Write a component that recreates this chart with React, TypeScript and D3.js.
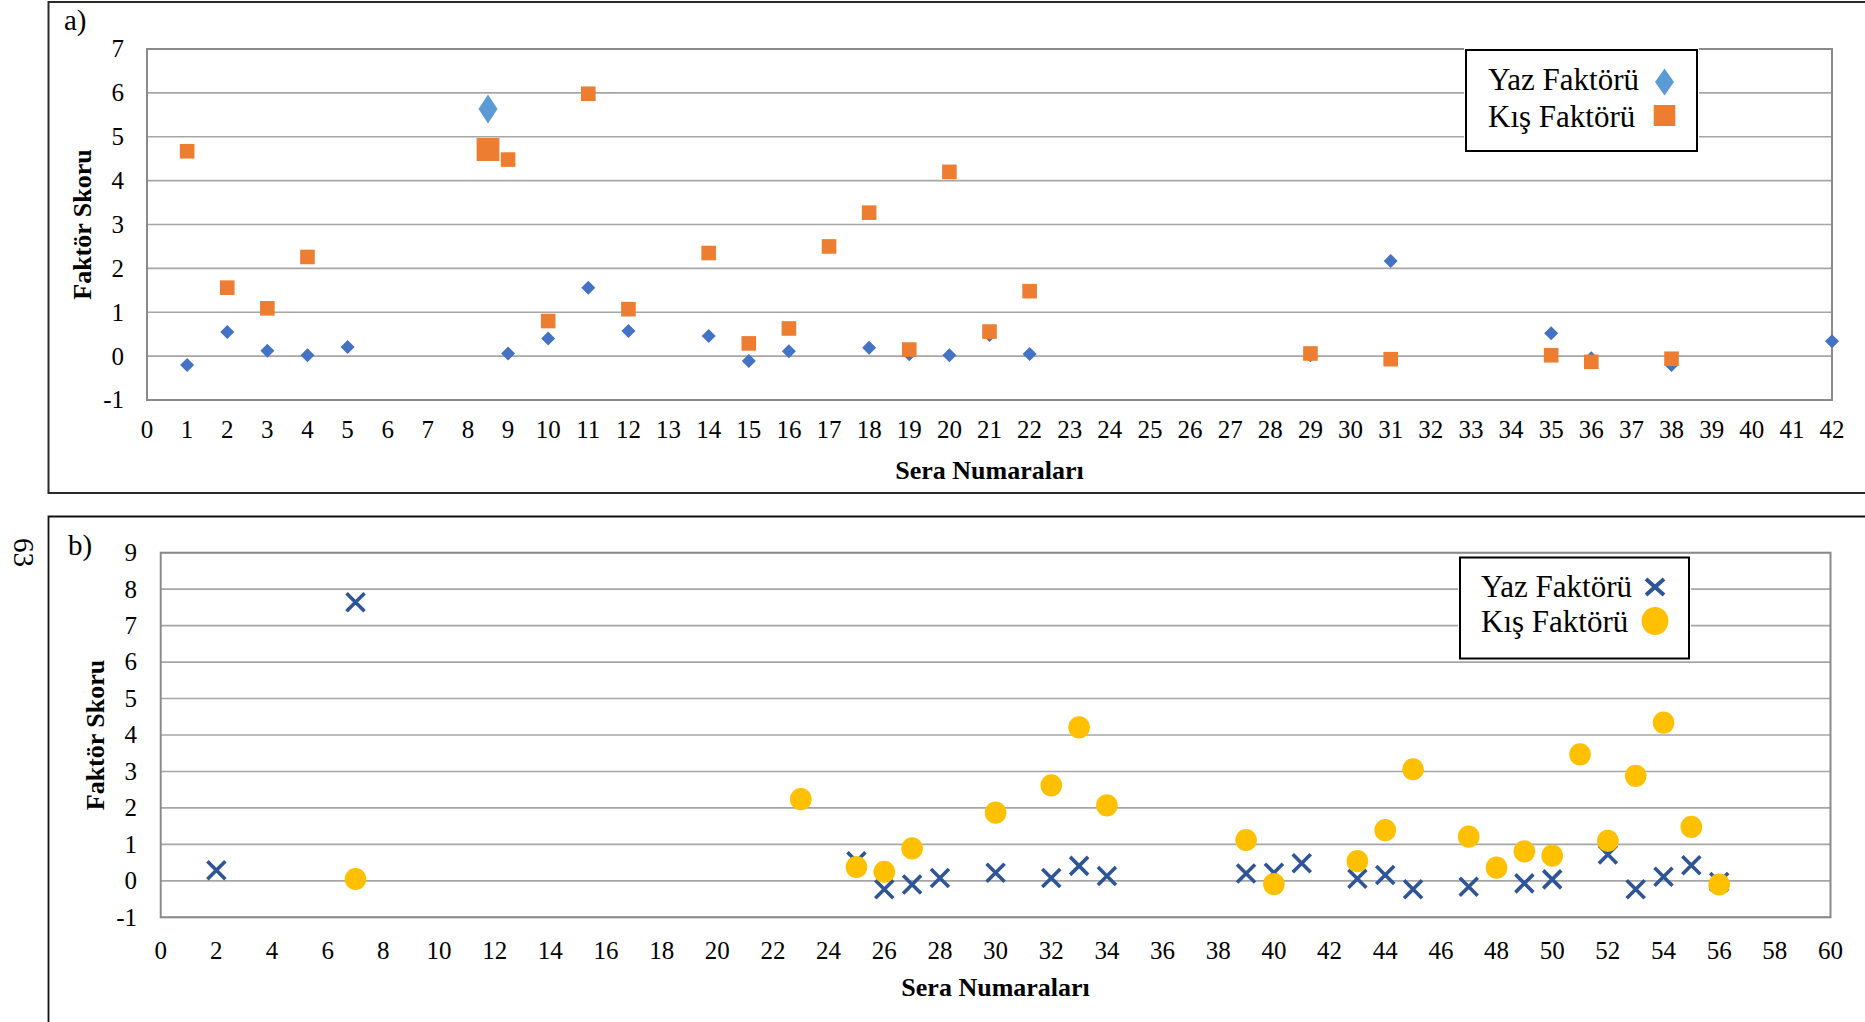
import React from 'react';
import * as d3 from 'd3';

const FONT = '"Liberation Serif", "Times New Roman", Times, serif';

// ---------- Panel a: greenhouses 1–42 ----------
const xTicksA = [0, 1, 2, 3, 4, 5, 6, 7, 8, 9, 10, 11, 12, 13, 14, 15, 16, 17, 18, 19, 20, 21, 22, 23, 24, 25, 26, 27, 28, 29, 30, 31, 32, 33, 34, 35, 36, 37, 38, 39, 40, 41, 42];
const yTicksA = [-1, 0, 1, 2, 3, 4, 5, 6, 7];

const yazSeraA = [1, 2, 3, 4, 5, 9, 10, 11, 12, 14, 15, 16, 18, 19, 20, 21, 22, 29, 31, 35, 36, 38, 42];
const yazSkorA = [-0.2, 0.55, 0.12, 0.02, 0.21, 0.06, 0.4, 1.56, 0.57, 0.46, -0.11, 0.11, 0.19, 0.04, 0.02, 0.48, 0.05, 0.02, 2.17, 0.52, -0.05, -0.2, 0.34];

const kisSeraA = [1, 2, 3, 4, 9, 10, 11, 12, 14, 15, 16, 17, 18, 19, 20, 21, 22, 29, 31, 35, 36, 38];
const kisSkorA = [4.67, 1.56, 1.09, 2.26, 4.48, 0.8, 5.98, 1.07, 2.35, 0.29, 0.63, 2.5, 3.27, 0.15, 4.2, 0.56, 1.48, 0.06, -0.07, 0.02, -0.13, -0.06];

// enlarged markers
const vurguSeraA = [8.5];
const vurguYazA = [5.63];
const vurguKisA = [4.71];

// ---------- Panel b: greenhouses 1–60 ----------
const xTicksB = [0, 2, 4, 6, 8, 10, 12, 14, 16, 18, 20, 22, 24, 26, 28, 30, 32, 34, 36, 38, 40, 42, 44, 46, 48, 50, 52, 54, 56, 58, 60];
const yTicksB = [-1, 0, 1, 2, 3, 4, 5, 6, 7, 8, 9];

const yazSeraB = [2, 7, 25, 26, 27, 28, 30, 32, 33, 34, 39, 40, 41, 43, 44, 45, 47, 49, 50, 52, 53, 54, 55, 56];
const yazSkorB = [0.29, 7.64, 0.54, -0.23, -0.1, 0.08, 0.22, 0.08, 0.41, 0.13, 0.2, 0.22, 0.48, 0.06, 0.16, -0.23, -0.16, -0.07, 0.04, 0.72, -0.23, 0.11, 0.43, -0.03];

const kisSeraB = [7, 23, 25, 26, 27, 30, 32, 33, 34, 39, 40, 43, 44, 45, 47, 48, 49, 50, 51, 52, 53, 54, 55, 56];
const kisSkorB = [0.05, 2.24, 0.38, 0.25, 0.89, 1.87, 2.62, 4.21, 2.07, 1.12, -0.09, 0.54, 1.39, 3.06, 1.21, 0.36, 0.81, 0.69, 3.47, 1.1, 2.88, 4.34, 1.48, -0.1];

const seriesNames = ['Yaz Faktörü', 'Kış Faktörü'];

const C_YAZ = '#4472C4';
const C_YAZ_LIGHT = '#5B9BD5';
const C_KIS = '#ED7D31';
const C_YAZ_B = '#2F5597';
const C_KIS_B = '#FFC000';
const C_GRID = '#a6a6a6';
const C_BORDER = '#8a8a8a';

const diamondPath = (w: number, h: number) => `M0,${-h / 2}L${w / 2},0L0,${h / 2}L${-w / 2},0Z`;
const crossPath = (w: number, h: number) =>
  `M${-w / 2},${-h / 2}L${w / 2},${h / 2}M${w / 2},${-h / 2}L${-w / 2},${h / 2}`;

type Layout = {
  l: number; r: number; t: number; b: number;
  xDomain: [number, number]; yDomain: [number, number];
  xTicks: number[]; yTicks: number[];
  yTickRight: number; xTickBase: number;
  yTitleBase: number; xTitleBase: number;
  legend: { x: number; y: number; w: number; h: number; tx: number; b1: number; b2: number; mx: number; m1: number; m2: number };
};

function Axes({ L, x, y }: { L: Layout; x: d3.ScaleLinear<number, number>; y: d3.ScaleLinear<number, number> }) {
  return (
    <g>
      {L.yTicks.map((t) => (
        <line key={'g' + t} x1={L.l} x2={L.r} y1={y(t)} y2={y(t)} stroke={C_GRID} strokeWidth={1.6} />
      ))}
      <rect x={L.l} y={L.t} width={L.r - L.l} height={L.b - L.t} fill="none" stroke={C_BORDER} strokeWidth={2} />
    </g>
  );
}

function Labels({ L, x, y }: { L: Layout; x: d3.ScaleLinear<number, number>; y: d3.ScaleLinear<number, number> }) {
  const cy = (L.t + L.b) / 2;
  const cx = (L.l + L.r) / 2;
  return (
    <g fontFamily={FONT} fill="#000">
      {L.yTicks.map((t) => (
        <text key={'y' + t} x={L.yTickRight} y={y(t) + 8.4} fontSize={25} textAnchor="end">
          {t}
        </text>
      ))}
      {L.xTicks.map((t) => (
        <text key={'x' + t} x={x(t)} y={L.xTickBase} fontSize={25} textAnchor="middle">
          {t}
        </text>
      ))}
      <text
        transform={`translate(${L.yTitleBase},${cy}) rotate(-90)`}
        fontSize={26}
        fontWeight="bold"
        textAnchor="middle"
      >
        Faktör Skoru
      </text>
      <text x={cx} y={L.xTitleBase} fontSize={26} fontWeight="bold" textAnchor="middle">
        Sera Numaraları
      </text>
    </g>
  );
}

function LegendBox({ L, marker1, marker2 }: { L: Layout; marker1: React.ReactNode; marker2: React.ReactNode }) {
  const g = L.legend;
  return (
    <g>
      <rect x={g.x - 2} y={g.y - 2} width={g.w + 4} height={g.h + 4} fill="#fff" />
      <rect x={g.x} y={g.y} width={g.w} height={g.h} fill="#fff" stroke="#000" strokeWidth={2} />
      <text x={g.tx} y={g.b1} fontFamily={FONT} fontSize={31} fill="#000">{seriesNames[0]}</text>
      <text x={g.tx} y={g.b2} fontFamily={FONT} fontSize={31} fill="#000">{seriesNames[1]}</text>
      <g transform={`translate(${g.mx},${g.m1})`}>{marker1}</g>
      <g transform={`translate(${g.mx},${g.m2})`}>{marker2}</g>
    </g>
  );
}

const layoutA: Layout = {
  l: 147, r: 1832, t: 49, b: 400,
  xDomain: [0, 42], yDomain: [-1, 7],
  xTicks: xTicksA, yTicks: yTicksA,
  yTickRight: 124, xTickBase: 438,
  yTitleBase: 91, xTitleBase: 479,
  legend: { x: 1466, y: 50, w: 231, h: 101, tx: 1488, b1: 90, b2: 127, mx: 1664.5, m1: 82, m2: 115.5 },
};

const layoutB: Layout = {
  l: 160.7, r: 1830.5, t: 552.7, b: 917.3,
  xDomain: [0, 60], yDomain: [-1, 9],
  xTicks: xTicksB, yTicks: yTicksB,
  yTickRight: 137, xTickBase: 959,
  yTitleBase: 104, xTitleBase: 996,
  legend: { x: 1460, y: 557.5, w: 229, h: 101, tx: 1481, b1: 597, b2: 632, mx: 1655, m1: 587, m2: 621 },
};

function PanelA() {
  const L = layoutA;
  const x = d3.scaleLinear().domain(L.xDomain).range([L.l, L.r]);
  const y = d3.scaleLinear().domain(L.yDomain).range([L.b, L.t]);
  return (
    <g>
      {/* frame */}
      <path d={`M1870,2H48.5V493H1870`} fill="none" stroke="#2a2a2a" strokeWidth={2} />
      <text x={64} y={30} fontFamily={FONT} fontSize={29} fill="#000">a)</text>
      <Axes L={L} x={x} y={y} />
      {yazSeraA.map((s, i) => (
        <path key={'ya' + i} d={diamondPath(14, 14)} transform={`translate(${x(s)},${y(yazSkorA[i])})`} fill={C_YAZ} />
      ))}
      {vurguSeraA.map((s, i) => (
        <path key={'yv' + i} d={diamondPath(19, 29)} transform={`translate(${x(s)},${y(vurguYazA[i])})`} fill={C_YAZ_LIGHT} />
      ))}
      {kisSeraA.map((s, i) => (
        <rect key={'ka' + i} x={x(s) - 7.3} y={y(kisSkorA[i]) - 7.3} width={14.6} height={14.6} fill={C_KIS} />
      ))}
      {vurguSeraA.map((s, i) => (
        <rect key={'kv' + i} x={x(s) - 11.4} y={y(vurguKisA[i]) - 11.5} width={22.8} height={23} fill={C_KIS} />
      ))}
      <LegendBox
        L={L}
        marker1={<path d={diamondPath(19, 27)} fill={C_YAZ_LIGHT} />}
        marker2={<rect x={-10.8} y={-10.5} width={21.6} height={21} fill={C_KIS} />}
      />
      <Labels L={L} x={x} y={y} />
    </g>
  );
}

function PanelB() {
  const L = layoutB;
  const x = d3.scaleLinear().domain(L.xDomain).range([L.l, L.r]);
  const y = d3.scaleLinear().domain(L.yDomain).range([L.b, L.t]);
  return (
    <g>
      <path d={`M1870,516.5H48.5V1030`} fill="none" stroke="#111" strokeWidth={1.8} />
      <text x={68} y={555} fontFamily={FONT} fontSize={29} fill="#000">b)</text>
      <text transform="translate(13.5,552.5) rotate(90)" fontFamily={FONT} fontSize={29} fill="#000" textAnchor="middle">63</text>
      <Axes L={L} x={x} y={y} />
      {yazSeraB.map((s, i) => (
        <path
          key={'yb' + i}
          d={crossPath(18, 18)}
          transform={`translate(${x(s)},${y(yazSkorB[i])})`}
          stroke={C_YAZ_B}
          strokeWidth={3.6}
          fill="none"
        />
      ))}
      {kisSeraB.map((s, i) => (
        <ellipse key={'kb' + i} cx={x(s)} cy={y(kisSkorB[i])} rx={10.8} ry={11.1} fill={C_KIS_B} />
      ))}
      <LegendBox
        L={L}
        marker1={<path d={crossPath(18, 16)} stroke={C_YAZ_B} strokeWidth={4} fill="none" />}
        marker2={<ellipse rx={13.4} ry={14} fill={C_KIS_B} />}
      />
      <Labels L={L} x={x} y={y} />
    </g>
  );
}

export default function App() {
  return (
    <svg
      width={1865}
      height={1022}
      viewBox="0 0 1865 1022"
      style={{ position: 'absolute', left: 0, top: 0, display: 'block', background: '#fff' }}
    >
      <rect width={1865} height={1022} fill="#fff" />
      <PanelA />
      <PanelB />
    </svg>
  );
}
